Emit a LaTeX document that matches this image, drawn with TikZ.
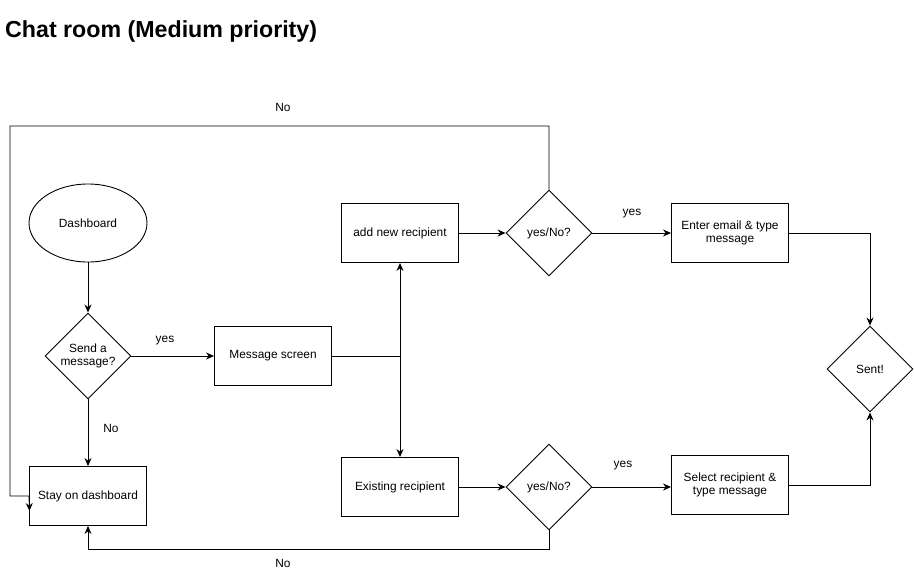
\documentclass[tikz,border=0pt]{standalone}
\usepackage{fontspec}
\setmainfont{Liberation Sans}
\usetikzlibrary{shapes.geometric,arrows.meta}
\begin{document}
\begin{tikzpicture}[x=1pt,y=-1pt,
  every node/.style={font=\fontsize{11.9}{13.8}\selectfont},
  box/.style={draw, rectangle, minimum width=117pt, minimum height=59pt, inner sep=2pt, align=center, line width=0.9pt},
  dia/.style={draw, diamond, minimum width=86pt, minimum height=86pt, inner sep=0pt, align=center, line width=0.9pt},
  oval/.style={draw, ellipse, minimum width=118pt, minimum height=78pt, inner sep=0pt, line width=0.9pt},
  conn/.style={line width=0.9pt, -{Stealth[length=8pt,width=7pt]}},
  plain/.style={line width=0.9pt},
  lab/.style={inner sep=0pt}]
\useasboundingbox (0,0) rectangle (914,574);

\node[font=\bfseries\fontsize{23.2}{26}\selectfont, anchor=base west, inner sep=0pt] (title) at (5,37) {Chat room (Medium priority)};

\node[oval] (dash) at (88,223) {Dashboard};
\node[dia] (send) at (88,356) {Send a\\message?};
\node[box] (msg) at (273,356) {Message screen};
\node[box] (addnew) at (400,233) {add new recipient};
\node[box] (exist) at (400,487) {Existing recipient};
\node[dia] (q1) at (549,233) {yes/No?};
\node[dia] (q2) at (549,487) {yes/No?};
\node[box] (enter) at (730,233) {Enter email \& type\\message};
\node[box] (select) at (730,485) {Select recipient \&\\type message};
\node[dia] (sent) at (870,369) {Sent!};
\node[box] (stay) at (88,496) {Stay on dashboard};

\coordinate (j) at (400,356);
\coordinate (topy) at (10,126);
\coordinate (lk) at (10,496);
\coordinate (ltip) at (29.5,511);

\draw[conn] (dash) -- (send);
\draw[conn] (send) -- (stay);
\draw[conn] (send.east) -- (msg.west);
\draw[plain] (msg.east) -- (j);
\draw[conn] (j) -- (addnew.south);
\draw[conn] (j) -- (exist.north);
\draw[conn] (addnew) -- (q1);
\draw[conn] (exist.east) -- (exist.east -| q2.west);
\draw[conn] (q1) -- (enter);
\draw[conn] (q2.east) -- (q2.east -| select.west);
\draw[conn] (enter.east) -| (sent.north);
\draw[conn] (select.east) -| (sent.south);
\draw[conn] (q1.north) |- (topy) -- (lk) -- (stay.west) -- (ltip);
\draw[conn] (q2.south) -- ++(0,19) -| (stay.south);

\node[lab] (l1) at (283,107) {No};
\node[lab] (l2) at (165,341) {yes};
\node[lab] (l3) at (111,428) {No};
\node[lab] (l4) at (632,214) {yes};
\node[lab] (l5) at (623,466) {yes};
\node[lab] (l6) at (283,563) {No};
\end{tikzpicture}
\end{document}
